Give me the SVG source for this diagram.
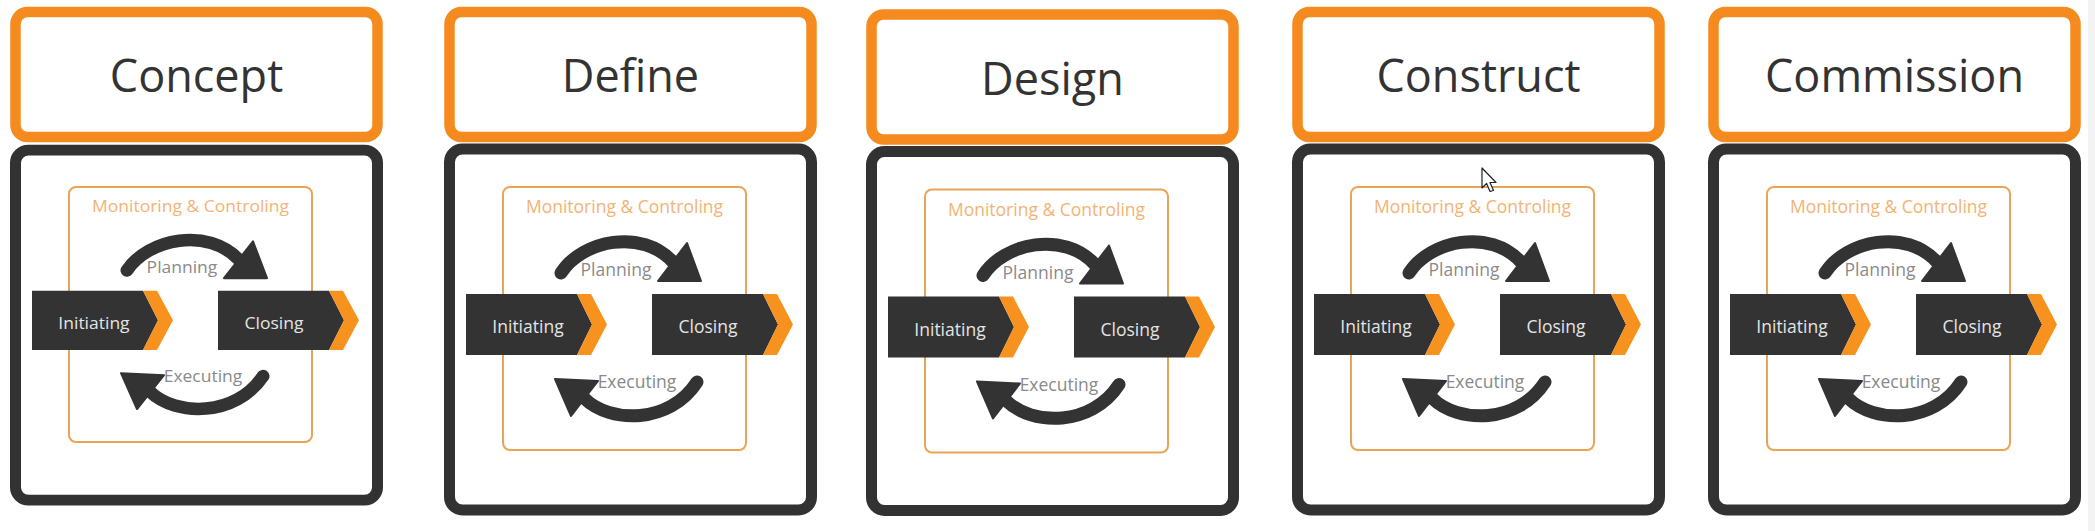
<svg xmlns="http://www.w3.org/2000/svg" width="2095" height="531" viewBox="0 0 2095 531">
<style>
.title-box{fill:#fff;stroke:#f58b1f;stroke-width:10.5}
.phase-box{fill:#fff;stroke:#323232;stroke-width:11}
.mc-box{fill:none;stroke:#eaa458;stroke-width:2}
.title{font-family:"Open Sans","Liberation Sans",sans-serif;font-size:45px;fill:#333;text-anchor:middle}
.mc{font-family:"Open Sans","Liberation Sans",sans-serif;font-size:17.5px;fill:#f3b375;text-anchor:middle}
.lbl{font-family:"Open Sans","Liberation Sans",sans-serif;font-size:17.5px;fill:#8a8a8a;text-anchor:middle}
.ct{font-family:"Open Sans","Liberation Sans",sans-serif;font-size:17.5px;fill:#e4e4e4;text-anchor:middle}
.arc{fill:none;stroke:#333;stroke-width:13;stroke-linecap:round}
.ah{fill:#333;stroke:#333;stroke-width:2;stroke-linejoin:round}
.chev-d{fill:#333}
.chev-o{fill:#f7921e}
</style>
<rect x="0" y="0" width="2095" height="531" fill="#fff"/>
<rect x="2088" y="0" width="7" height="531" fill="#f3f3f3"/>

<!-- Panel 1 -->
<g id="concept" transform="translate(10,0)">
  <g id="concept-title">
    <rect class="title-box" x="5.5" y="12" width="362" height="125" rx="12"/>
    <text class="title" x="186.5" y="92">Concept</text>
  </g>
  <g transform="translate(0,5.7) scale(1,0.9696)">
    <g id="concept-phase">
      <rect class="phase-box" x="5.5" y="149" width="362" height="361" rx="13"/>
    </g>
    <g id="concept-mc">
      <rect class="mc-box" x="59" y="187" width="243" height="263" rx="7"/>
      <text class="mc" x="180.5" y="213">Monitoring &amp; Controling</text>
    </g>
    <g id="concept-connectors">
      <path class="arc" d="M117,273 C138,240 198,228 229,262"/>
      <polygon class="ah" points="243,243 257,281 214,281"/>
      <path class="arc" d="M253,382 C226,424 166,424 140,398"/>
      <polygon class="ah" points="111,379 154,381 127,416"/>
      <text class="lbl" x="172" y="276">Planning</text>
      <text class="lbl" x="193" y="388">Executing</text>
    </g>
    <g id="concept-initiating">
      <polygon class="chev-d" points="22,294 133,294 148,324.5 133,355 22,355"/>
      <polygon class="chev-o" points="133,294 147,294 163,324.5 147,355 133,355 148,324.5"/>
      <text class="ct" x="84" y="333">Initiating</text>
    </g>
    <g id="concept-closing">
      <polygon class="chev-d" points="208,294 319,294 334,324.5 319,355 208,355"/>
      <polygon class="chev-o" points="319,294 333,294 349,324.5 333,355 319,355 334,324.5"/>
      <text class="ct" x="264" y="333">Closing</text>
    </g>
  </g>
</g>

<!-- Panel 2 -->
<g id="define" transform="translate(444,0)">
  <g id="define-title">
    <rect class="title-box" x="5.5" y="12" width="362" height="125" rx="12"/>
    <text class="title" x="186.5" y="92">Define</text>
  </g>
  <g id="define-phase">
    <rect class="phase-box" x="5.5" y="149" width="362" height="361" rx="13"/>
  </g>
  <g id="define-mc">
    <rect class="mc-box" x="59" y="187" width="243" height="263" rx="7"/>
    <text class="mc" x="180.5" y="213">Monitoring &amp; Controling</text>
  </g>
  <g id="define-connectors">
    <path class="arc" d="M117,273 C138,240 198,228 229,262"/>
    <polygon class="ah" points="243,243 257,281 214,281"/>
    <path class="arc" d="M253,382 C226,424 166,424 140,398"/>
    <polygon class="ah" points="111,379 154,381 127,416"/>
    <text class="lbl" x="172" y="276">Planning</text>
    <text class="lbl" x="193" y="388">Executing</text>
  </g>
  <g id="define-initiating">
    <polygon class="chev-d" points="22,294 133,294 148,324.5 133,355 22,355"/>
    <polygon class="chev-o" points="133,294 147,294 163,324.5 147,355 133,355 148,324.5"/>
    <text class="ct" x="84" y="333">Initiating</text>
  </g>
  <g id="define-closing">
    <polygon class="chev-d" points="208,294 319,294 334,324.5 319,355 208,355"/>
    <polygon class="chev-o" points="319,294 333,294 349,324.5 333,355 319,355 334,324.5"/>
    <text class="ct" x="264" y="333">Closing</text>
  </g>
</g>

<!-- Panel 3 -->
<g id="design" transform="translate(866,2.5)">
  <g id="design-title">
    <rect class="title-box" x="5.5" y="12" width="362" height="125" rx="12"/>
    <text class="title" x="186.5" y="92">Design</text>
  </g>
  <g id="design-phase">
    <rect class="phase-box" x="5.5" y="149" width="362" height="359" rx="13"/>
  </g>
  <g id="design-mc">
    <rect class="mc-box" x="59" y="187" width="243" height="263" rx="7"/>
    <text class="mc" x="180.5" y="213">Monitoring &amp; Controling</text>
  </g>
  <g id="design-connectors">
    <path class="arc" d="M117,273 C138,240 198,228 229,262"/>
    <polygon class="ah" points="243,243 257,281 214,281"/>
    <path class="arc" d="M253,382 C226,424 166,424 140,398"/>
    <polygon class="ah" points="111,379 154,381 127,416"/>
    <text class="lbl" x="172" y="276">Planning</text>
    <text class="lbl" x="193" y="388">Executing</text>
  </g>
  <g id="design-initiating">
    <polygon class="chev-d" points="22,294 133,294 148,324.5 133,355 22,355"/>
    <polygon class="chev-o" points="133,294 147,294 163,324.5 147,355 133,355 148,324.5"/>
    <text class="ct" x="84" y="333">Initiating</text>
  </g>
  <g id="design-closing">
    <polygon class="chev-d" points="208,294 319,294 334,324.5 319,355 208,355"/>
    <polygon class="chev-o" points="319,294 333,294 349,324.5 333,355 319,355 334,324.5"/>
    <text class="ct" x="264" y="333">Closing</text>
  </g>
</g>

<!-- Panel 4 -->
<g id="construct" transform="translate(1292,0)">
  <g id="construct-title">
    <rect class="title-box" x="5.5" y="12" width="362" height="125" rx="12"/>
    <text class="title" x="186.5" y="92">Construct</text>
  </g>
  <g id="construct-phase">
    <rect class="phase-box" x="5.5" y="149" width="362" height="361" rx="13"/>
  </g>
  <g id="construct-mc">
    <rect class="mc-box" x="59" y="187" width="243" height="263" rx="7"/>
    <text class="mc" x="180.5" y="213">Monitoring &amp; Controling</text>
  </g>
  <g id="construct-connectors">
    <path class="arc" d="M117,273 C138,240 198,228 229,262"/>
    <polygon class="ah" points="243,243 257,281 214,281"/>
    <path class="arc" d="M253,382 C226,424 166,424 140,398"/>
    <polygon class="ah" points="111,379 154,381 127,416"/>
    <text class="lbl" x="172" y="276">Planning</text>
    <text class="lbl" x="193" y="388">Executing</text>
  </g>
  <g id="construct-initiating">
    <polygon class="chev-d" points="22,294 133,294 148,324.5 133,355 22,355"/>
    <polygon class="chev-o" points="133,294 147,294 163,324.5 147,355 133,355 148,324.5"/>
    <text class="ct" x="84" y="333">Initiating</text>
  </g>
  <g id="construct-closing">
    <polygon class="chev-d" points="208,294 319,294 334,324.5 319,355 208,355"/>
    <polygon class="chev-o" points="319,294 333,294 349,324.5 333,355 319,355 334,324.5"/>
    <text class="ct" x="264" y="333">Closing</text>
  </g>
</g>

<!-- Panel 5 -->
<g id="commission" transform="translate(1708,0)">
  <g id="commission-title">
    <rect class="title-box" x="5.5" y="12" width="362" height="125" rx="12"/>
    <text class="title" x="186.5" y="92">Commission</text>
  </g>
  <g id="commission-phase">
    <rect class="phase-box" x="5.5" y="149" width="362" height="361" rx="13"/>
  </g>
  <g id="commission-mc">
    <rect class="mc-box" x="59" y="187" width="243" height="263" rx="7"/>
    <text class="mc" x="180.5" y="213">Monitoring &amp; Controling</text>
  </g>
  <g id="commission-connectors">
    <path class="arc" d="M117,273 C138,240 198,228 229,262"/>
    <polygon class="ah" points="243,243 257,281 214,281"/>
    <path class="arc" d="M253,382 C226,424 166,424 140,398"/>
    <polygon class="ah" points="111,379 154,381 127,416"/>
    <text class="lbl" x="172" y="276">Planning</text>
    <text class="lbl" x="193" y="388">Executing</text>
  </g>
  <g id="commission-initiating">
    <polygon class="chev-d" points="22,294 133,294 148,324.5 133,355 22,355"/>
    <polygon class="chev-o" points="133,294 147,294 163,324.5 147,355 133,355 148,324.5"/>
    <text class="ct" x="84" y="333">Initiating</text>
  </g>
  <g id="commission-closing">
    <polygon class="chev-d" points="208,294 319,294 334,324.5 319,355 208,355"/>
    <polygon class="chev-o" points="319,294 333,294 349,324.5 333,355 319,355 334,324.5"/>
    <text class="ct" x="264" y="333">Closing</text>
  </g>
</g>

<!-- mouse pointer visible in the screenshot -->
<polygon points="1482,168 1482,188 1486.6,183.5 1490,191.5 1493.5,190.5 1490,182.5 1496,182.5" fill="#fff" stroke="#222" stroke-width="1.2" stroke-linejoin="round"/>
</svg>
